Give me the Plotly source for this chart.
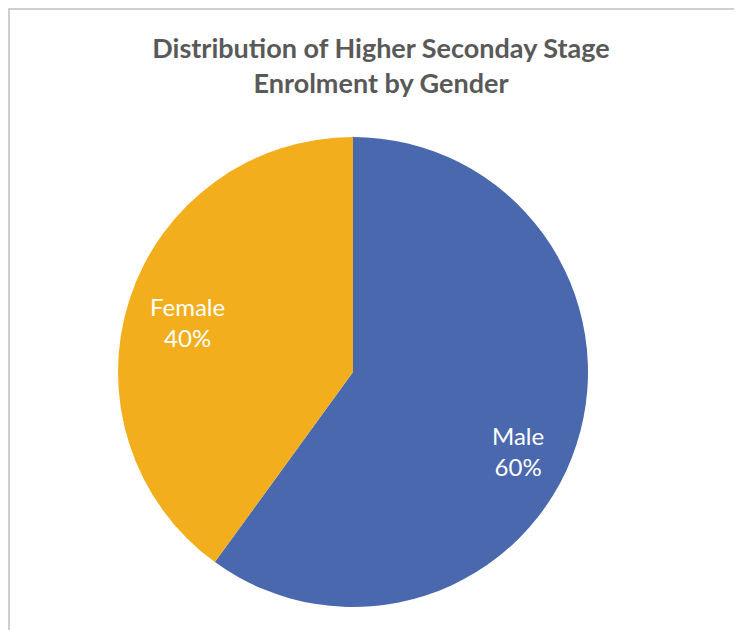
import math
import plotly.graph_objects as go

W, H = 742, 630
labels = ["Male", "Female"]
values = [60, 40]
colors = ["#4A68AE", "#F2AE1C"]
title_text = "Distribution of Higher Seconday Stage<br>Enrolment by Gender"

# pie geometry (pixels in figure space)
cx, cy, R = 345, 364, 235
label_r = 0.74
label_dy = {"Male": 25, "Female": 4}   # best-fit label nudge (pixels, downward)

fig = go.Figure(go.Pie(
    labels=labels, values=values, sort=False, direction="clockwise", rotation=0,
    marker=dict(colors=colors, line=dict(width=0)),
    textinfo="none",
    domain=dict(x=[(cx - R) / W, (cx + R) / W], y=[1 - (cy + R) / H, 1 - (cy - R) / H]),
    showlegend=False, hoverinfo="skip",
))

total = sum(values)
annotations = []
start = 0.0
for lab, v in zip(labels, values):
    mid = (start + v / 2) / total * 2 * math.pi
    start += v
    px = cx + label_r * R * math.sin(mid)
    py = cy - label_r * R * math.cos(mid) + label_dy.get(lab, 0)
    annotations.append(dict(
        x=px / W, y=1 - py / H, xref="paper", yref="paper", showarrow=False,
        text=f"{lab}<br>{round(v / total * 100)}%", align="center",
        font=dict(family="Lato, Open Sans, sans-serif", size=24, color="white"),
        xanchor="center", yanchor="middle"))

fig.update_layout(
    width=W, height=H,
    margin=dict(l=0, r=0, t=0, b=0),
    paper_bgcolor="white", plot_bgcolor="white",
    title=dict(text=title_text, x=373/W, xanchor="center", y=1-50/H, yanchor="top",
               font=dict(family="Lato, Open Sans, sans-serif", size=27, color="#595959", weight="bold")),
    annotations=annotations,
    shapes=[dict(type="rect", xref="paper", yref="paper",
                 x0=1/W, x1=1.05, y0=-0.05, y1=1-1/H,
                 line=dict(color="#BFBFBF", width=1.5), fillcolor="rgba(0,0,0,0)", layer="below")],
)
fig.write_html("out.html")
